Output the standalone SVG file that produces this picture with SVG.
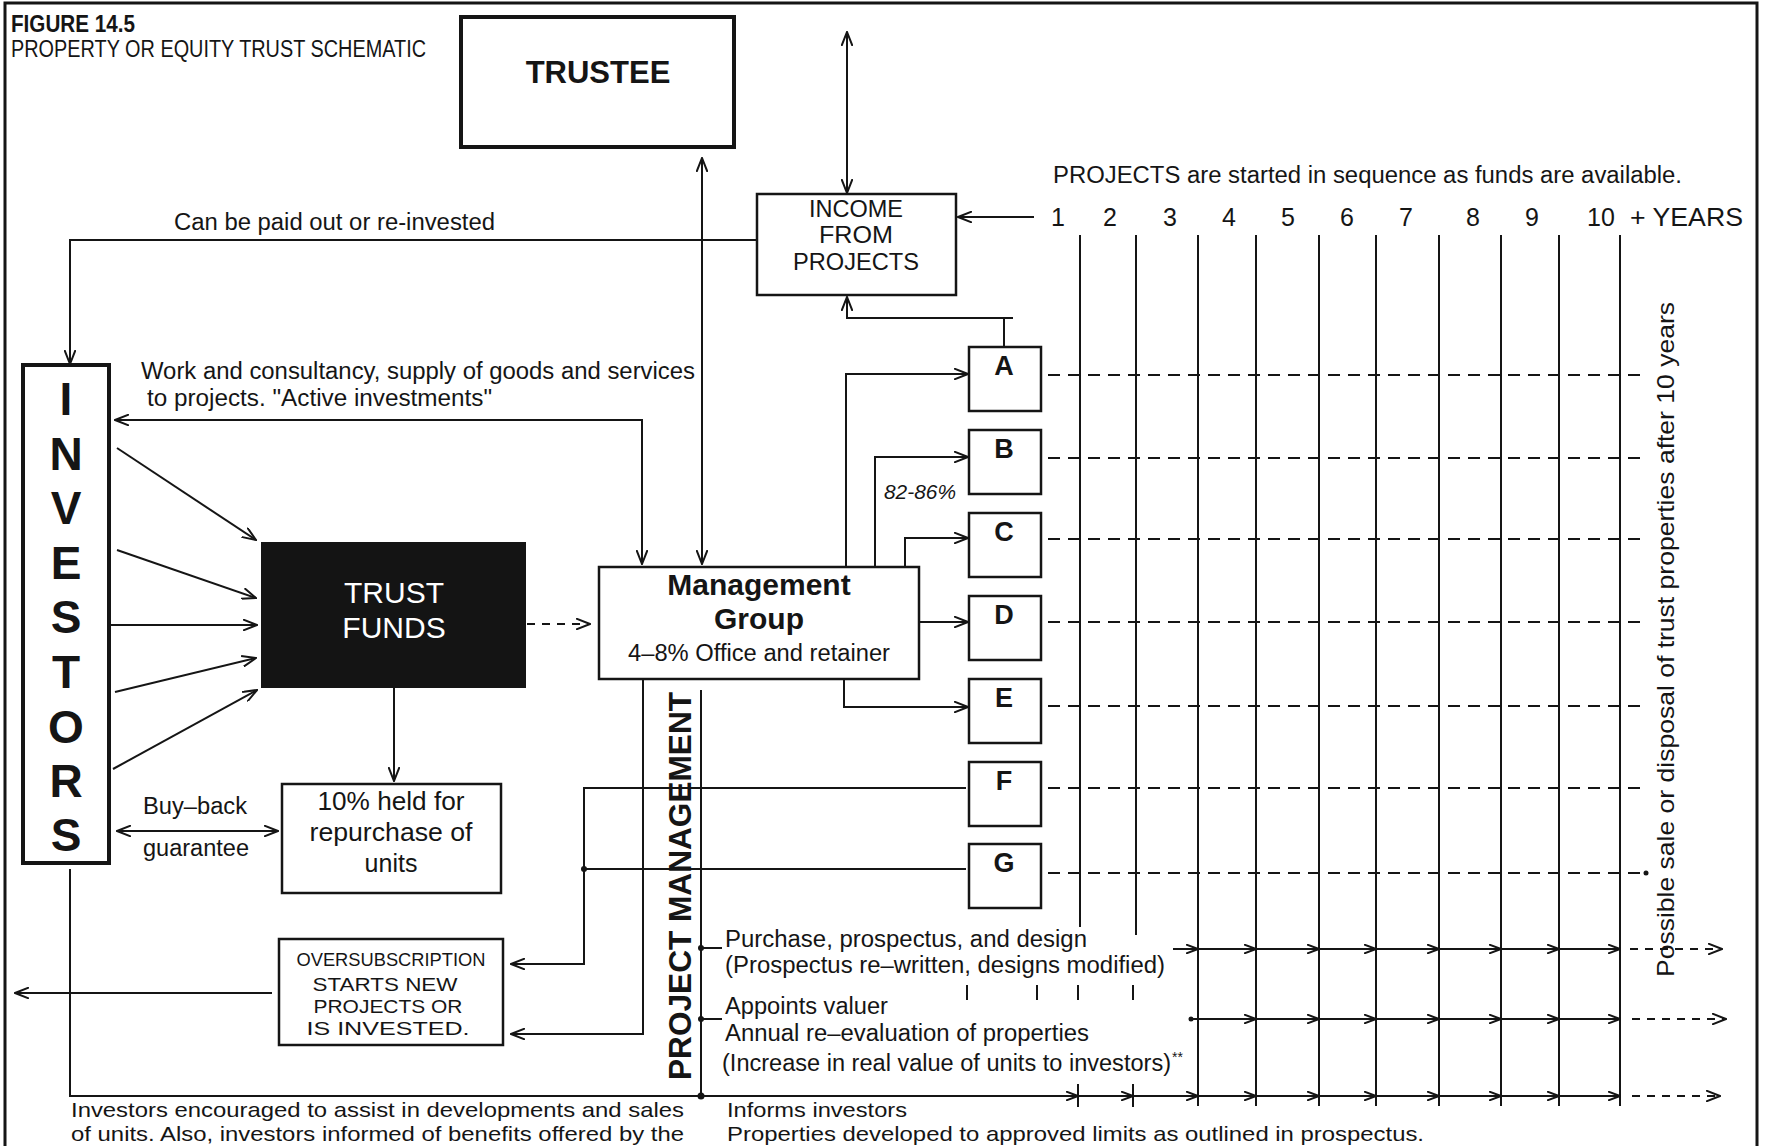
<svg xmlns="http://www.w3.org/2000/svg" width="1765" height="1146" viewBox="0 0 1765 1146">
<defs>
<style>
text{font-family:"Liberation Sans",Arial,sans-serif;fill:#151515}
.t{font-size:23.5px}
.bt{font-size:21px}
.b{font-weight:bold}
.m{text-anchor:middle}
.box{fill:#fff;stroke:#151515;stroke-width:2.5}
.ln{fill:none;stroke:#151515;stroke-width:2}
.dl{fill:none;stroke:#151515;stroke-width:2;stroke-dasharray:12 8}
.dd{fill:none;stroke:#151515;stroke-width:2;stroke-dasharray:8 7}
.a{marker-end:url(#ah)}
.aa{marker-start:url(#ah);marker-end:url(#ah)}
.s{marker-end:url(#sm)}
.dot{fill:#151515}
</style>
<marker id="ah" viewBox="0 0 15 12" refX="14" refY="6" markerWidth="15" markerHeight="12" markerUnits="userSpaceOnUse" orient="auto-start-reverse">
<path d="M0,0.5 L14,6 L0,11.5" fill="none" stroke="#151515" stroke-width="2" stroke-dasharray="none"/>
</marker>
<marker id="sm" viewBox="0 0 13 10" refX="12" refY="5" markerWidth="13" markerHeight="10" markerUnits="userSpaceOnUse" orient="auto">
<path d="M0,0.5 L12,5 L0,9.5" fill="none" stroke="#151515" stroke-width="2" stroke-dasharray="none"/>
</marker>
</defs>
<rect x="0" y="0" width="1765" height="1146" fill="#fff"/>
<rect x="5" y="3" width="1752" height="1170" fill="none" stroke="#151515" stroke-width="3"/>

<g id="title">
<text x="11" y="32" class="b" font-size="23" textLength="124" lengthAdjust="spacingAndGlyphs">FIGURE 14.5</text>
<text x="11" y="57" font-size="23" textLength="415" lengthAdjust="spacingAndGlyphs">PROPERTY OR EQUITY TRUST SCHEMATIC</text>
</g>

<g id="trustee">
<rect x="461" y="17" width="273" height="130" fill="#fff" stroke="#151515" stroke-width="4"/>
<text x="598" y="83" class="b m" font-size="31">TRUSTEE</text>
</g>

<g id="income">
<rect class="box" x="757" y="194" width="199" height="101"/>
<text x="856" y="217" class="m" font-size="24" textLength="94" lengthAdjust="spacingAndGlyphs">INCOME</text>
<text x="856" y="243" class="m" font-size="24" textLength="74" lengthAdjust="spacingAndGlyphs">FROM</text>
<text x="856" y="270" class="m" font-size="24" textLength="126" lengthAdjust="spacingAndGlyphs">PROJECTS</text>
</g>

<g id="investors">
<rect x="23" y="365" width="86" height="498" fill="#fff" stroke="#151515" stroke-width="4"/>
<g class="b m" font-size="46">
<text x="66" y="415">I</text>
<text x="66" y="470">N</text>
<text x="66" y="524">V</text>
<text x="66" y="579">E</text>
<text x="66" y="633">S</text>
<text x="66" y="688">T</text>
<text x="66" y="743">O</text>
<text x="66" y="797">R</text>
<text x="66" y="851">S</text>
</g>
</g>

<g id="trust-funds">
<rect x="261" y="542" width="265" height="146" fill="#141414"/>
<text x="394" y="603" class="m" font-size="30" style="fill:#fff">TRUST</text>
<text x="394" y="638" class="m" font-size="30" style="fill:#fff">FUNDS</text>
</g>

<g id="management-group">
<rect class="box" x="599" y="567" width="320" height="112"/>
<text x="759" y="595" class="b m" font-size="30">Management</text>
<text x="759" y="629" class="b m" font-size="30">Group</text>
<text x="759" y="661" class="m" font-size="23" textLength="262" lengthAdjust="spacingAndGlyphs">4–8% Office and retainer</text>
</g>

<g id="repurchase">
<rect class="box" x="282" y="784" width="219" height="109"/>
<text x="391" y="810" class="m" font-size="25" textLength="147" lengthAdjust="spacingAndGlyphs">10% held for</text>
<text x="391" y="841" class="m" font-size="25" textLength="163" lengthAdjust="spacingAndGlyphs">repurchase of</text>
<text x="391" y="872" class="m" font-size="25">units</text>
</g>

<g id="oversubscription">
<rect class="box" x="279" y="939" width="224" height="106"/>
<text x="391" y="966" class="m" font-size="19" textLength="189" lengthAdjust="spacingAndGlyphs">OVERSUBSCRIPTION</text>
<text x="385" y="991" class="m" font-size="19" textLength="145" lengthAdjust="spacingAndGlyphs">STARTS NEW</text>
<text x="388" y="1013" class="m" font-size="19" textLength="149" lengthAdjust="spacingAndGlyphs">PROJECTS OR</text>
<text x="388" y="1035" class="m" font-size="19" textLength="163" lengthAdjust="spacingAndGlyphs">IS INVESTED.</text>
</g>

<g id="project-A"><rect class="box" x="969" y="347" width="72" height="64"/><text x="1004" y="375" class="b m" font-size="27">A</text></g>
<g id="project-B"><rect class="box" x="969" y="430" width="72" height="64"/><text x="1004" y="458" class="b m" font-size="27">B</text></g>
<g id="project-C"><rect class="box" x="969" y="513" width="72" height="64"/><text x="1004" y="541" class="b m" font-size="27">C</text></g>
<g id="project-D"><rect class="box" x="969" y="596" width="72" height="64"/><text x="1004" y="624" class="b m" font-size="27">D</text></g>
<g id="project-E"><rect class="box" x="969" y="679" width="72" height="64"/><text x="1004" y="707" class="b m" font-size="27">E</text></g>
<g id="project-F"><rect class="box" x="969" y="762" width="72" height="64"/><text x="1004" y="790" class="b m" font-size="27">F</text></g>
<g id="project-G"><rect class="box" x="969" y="844" width="72" height="64"/><text x="1004" y="872" class="b m" font-size="27">G</text></g>

<g id="project-management">
<text transform="translate(691,1080) rotate(-90)" class="b" font-size="32" textLength="388" lengthAdjust="spacingAndGlyphs">PROJECT MANAGEMENT</text>
<path class="ln" d="M701,690 V1096"/>
<path class="ln" d="M701,948 H722 M701,1019 H722"/>
<circle class="dot" cx="701" cy="948" r="3"/>
<circle class="dot" cx="701" cy="1019" r="3"/>
<circle class="dot" cx="701" cy="1096" r="3.5"/>
</g>

<g id="timeline">
<text x="1053" y="183" class="t" textLength="629" lengthAdjust="spacingAndGlyphs">PROJECTS are started in sequence as funds are available.</text>
<g class="m" font-size="25">
<text x="1058" y="226">1</text>
<text x="1110" y="226">2</text>
<text x="1170" y="226">3</text>
<text x="1229" y="226">4</text>
<text x="1288" y="226">5</text>
<text x="1347" y="226">6</text>
<text x="1406" y="226">7</text>
<text x="1473" y="226">8</text>
<text x="1532" y="226">9</text>
<text x="1601" y="226">10</text>
</g>
<text x="1630" y="226" font-size="26" textLength="113" lengthAdjust="spacingAndGlyphs">+ YEARS</text>
<path class="ln" d="M1080,235 V927 M1136,235 V935 M1198,235 V1106 M1256,235 V1106 M1319,235 V1106 M1376,235 V1106 M1439,235 V1106 M1501,235 V1106 M1559,235 V1106 M1620,235 V1106"/>
<path class="ln" d="M967,985 V1000 M1037,985 V1000 M1078,985 V1000 M1133,985 V1000 M1078,1084 V1107 M1133,1084 V1107"/>
<path class="dl" d="M1048,375 H1646 M1048,458 H1648 M1048,539 H1646 M1048,622 H1646 M1048,706 H1646 M1048,788 H1646 M1048,873 H1646"/>
<circle class="dot" cx="1646" cy="873" r="2.5"/>
<text transform="translate(1674,977) rotate(-90)" font-size="24" textLength="675" lengthAdjust="spacingAndGlyphs">Possible sale or disposal of trust properties after 10 years</text>
</g>

<g id="labels">
<text x="174" y="230" class="t" textLength="321" lengthAdjust="spacingAndGlyphs">Can be paid out or re-invested</text>
<text x="141" y="379" class="t" textLength="554" lengthAdjust="spacingAndGlyphs">Work and consultancy, supply of goods and services</text>
<text x="147" y="406" class="t" textLength="345" lengthAdjust="spacingAndGlyphs">to projects.  "Active investments"</text>
<text x="143" y="814" class="t" textLength="104" lengthAdjust="spacingAndGlyphs">Buy–back</text>
<text x="143" y="856" class="t" textLength="106" lengthAdjust="spacingAndGlyphs">guarantee</text>
<text x="884" y="499" font-size="21" font-style="italic" textLength="72" lengthAdjust="spacingAndGlyphs">82-86%</text>
<text x="725" y="947" class="t" textLength="362" lengthAdjust="spacingAndGlyphs">Purchase, prospectus, and design</text>
<text x="725" y="973" class="t" textLength="440" lengthAdjust="spacingAndGlyphs">(Prospectus re–written, designs modified)</text>
<text x="725" y="1014" class="t" textLength="163" lengthAdjust="spacingAndGlyphs">Appoints valuer</text>
<text x="725" y="1041" class="t" textLength="364" lengthAdjust="spacingAndGlyphs">Annual re–evaluation of properties</text>
<text x="722" y="1071" class="t" textLength="449" lengthAdjust="spacingAndGlyphs">(Increase in real value of units to investors)</text>
<text x="1172" y="1062" font-size="14">**</text>
<text x="71" y="1117" class="bt" textLength="613" lengthAdjust="spacingAndGlyphs">Investors encouraged to assist in developments and sales</text>
<text x="71" y="1141" class="bt" textLength="613" lengthAdjust="spacingAndGlyphs">of units. Also, investors informed of benefits offered by the</text>
<text x="727" y="1117" class="bt" textLength="180" lengthAdjust="spacingAndGlyphs">Informs investors</text>
<text x="727" y="1141" class="bt" textLength="697" lengthAdjust="spacingAndGlyphs">Properties developed to approved limits as outlined in prospectus.</text>
</g>

<g id="connectors">
<path class="ln aa" d="M702,158 V564"/>
<path class="ln aa" d="M847,32 V193"/>
<path class="ln a" d="M1034,217 H958"/>
<path class="ln a" d="M757,240 H70 V364"/>
<path class="ln aa" d="M115,420 H642 V564"/>
<path class="ln a" d="M117,448 L256,540"/>
<path class="ln a" d="M117,550 L256,598"/>
<path class="ln a" d="M109,625 H257"/>
<path class="ln a" d="M115,692 L256,658"/>
<path class="ln a" d="M113,769 L257,690"/>
<path class="dd a" d="M527,624 H590"/>
<path class="ln a" d="M394,688 V781"/>
<path class="ln aa" d="M117,831 H278"/>
<path class="ln a" d="M272,993 H15"/>
<path class="ln a" d="M966,788 H584 V964 H511"/>
<path class="ln" d="M966,869 H584"/>
<circle class="dot" cx="584" cy="869" r="3"/>
<path class="ln a" d="M643,679 V1034 H511"/>
<path class="ln a" d="M846,567 V374 H968"/>
<path class="ln a" d="M875,567 V457 H968"/>
<path class="ln a" d="M905,567 V538 H968"/>
<path class="ln a" d="M919,622 H968"/>
<path class="ln a" d="M844,679 V707 H968"/>
<path class="ln a" d="M1013,318 H847 V297"/>
<path class="ln" d="M1004,318 V347"/>
<path class="ln" d="M70,869 V1096 H701"/>
<path class="ln s" d="M1173,949 H1198"/>
<path class="ln s" d="M1198,949 H1256"/>
<path class="ln s" d="M1256,949 H1319"/>
<path class="ln s" d="M1319,949 H1376"/>
<path class="ln s" d="M1376,949 H1439"/>
<path class="ln s" d="M1439,949 H1501"/>
<path class="ln s" d="M1501,949 H1559"/>
<path class="ln s" d="M1559,949 H1620"/>
<path class="dd a" d="M1630,949 H1722"/>
<circle class="dot" cx="1191" cy="1019" r="2.5"/>
<path class="ln s" d="M1191,1019 H1256"/>
<path class="ln s" d="M1256,1019 H1319"/>
<path class="ln s" d="M1319,1019 H1376"/>
<path class="ln s" d="M1376,1019 H1439"/>
<path class="ln s" d="M1439,1019 H1501"/>
<path class="ln s" d="M1501,1019 H1559"/>
<path class="ln s" d="M1559,1019 H1620"/>
<path class="dd a" d="M1632,1019 H1726"/>
<path class="ln s" d="M701,1096 H1078"/>
<path class="ln s" d="M1078,1096 H1133"/>
<path class="ln s" d="M1133,1096 H1198"/>
<path class="ln s" d="M1198,1096 H1256"/>
<path class="ln s" d="M1256,1096 H1319"/>
<path class="ln s" d="M1319,1096 H1376"/>
<path class="ln s" d="M1376,1096 H1439"/>
<path class="ln s" d="M1439,1096 H1501"/>
<path class="ln s" d="M1501,1096 H1559"/>
<path class="ln s" d="M1559,1096 H1620"/>
<path class="dd a" d="M1632,1096 H1720"/>
</g>
</svg>
